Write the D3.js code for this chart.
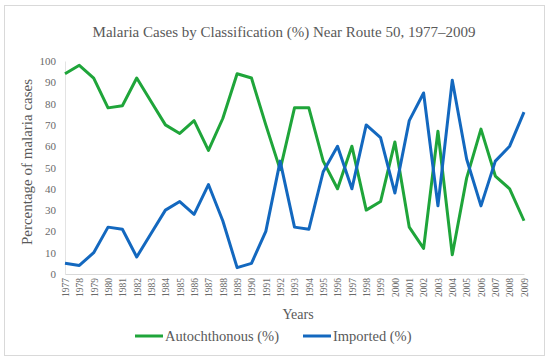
<!DOCTYPE html>
<meta charset="utf-8">
<script src="https://d3js.org/d3.v7.min.js"></script>
<html>
  <head>
    <style>
    body { margin: 0; background: #fff; }
    text { font-family: "Liberation Serif", "DejaVu Serif", serif; fill: #595959; }
    </style>
  </head>
  <body>
    <div id="chart"></div>
  </body>
</html>
<script>

// data
var years = d3.range(1977, 2010);
var autochthonous = [94, 98, 92, 78, 79, 92, 81, 70, 66, 72, 58, 73, 94, 92, 70, 49, 78, 78, 53, 40, 60, 30, 34, 62, 22, 12, 67, 9, 45, 68, 46, 40, 25];
var imported = [5, 4, 10, 22, 21, 8, 19, 30, 34, 28, 42, 25, 3, 5, 20, 53, 22, 21, 48, 60, 40, 70, 64, 38, 72, 85, 32, 91, 54, 32, 53, 60, 76];
var yTicks = [0, 10, 20, 30, 40, 50, 60, 70, 80, 90, 100];
var seriesNames = ["Autochthonous (%)", "Imported (%)"];
var seriesColors = ["#1fa53a", "#1368bf"];

var W = 550, H = 361;
var margin = {top: 61, right: 26, bottom: 88, left: 65};

var svg = d3.select("#chart").append("svg")
    .attr("width", W)
    .attr("height", H);

// outer frame
svg.append("rect")
    .attr("x", 4.5).attr("y", 5.5)
    .attr("width", 540).attr("height", 350)
    .attr("fill", "#fff")
    .attr("stroke", "#d9d9d9");

var x = d3.scaleLinear()
    .domain([1977, 2009])
    .range([margin.left, W - margin.right]);

var y = d3.scaleLinear()
    .domain([0, 100])
    .range([H - margin.bottom + 1, margin.top]);

// y axis
var yAxis = svg.append("g")
    .attr("transform", "translate(" + margin.left + ",0)")
    .call(d3.axisLeft(y).tickValues(yTicks).tickSize(0).tickPadding(9));
yAxis.select(".domain").attr("stroke", "#e3e3e3");
yAxis.selectAll("text").style("font-size", "11px").style("fill", "#6a6a6a");

// x axis
var xAxis = svg.append("g")
    .attr("transform", "translate(0," + y(0) + ")")
    .call(d3.axisBottom(x).tickValues(years).tickFormat(d3.format("d")).tickSize(0));
xAxis.select(".domain").attr("stroke", "#d9d9d9");
xAxis.selectAll("text")
    .style("font-size", "9.5px")
    .style("fill", "#6a6a6a")
    .attr("text-anchor", "end")
    .attr("dy", "0.35em")
    .attr("transform", "translate(0,4) rotate(-90)")
    .attr("x", 0).attr("y", 0);

// lines
var line = d3.line()
    .x(function(d, i) { return x(years[i]); })
    .y(function(d) { return y(d); });

[autochthonous, imported].forEach(function(s, k) {
  svg.append("path")
    .datum(s)
    .attr("fill", "none")
    .attr("stroke", seriesColors[k])
    .attr("stroke-width", 3)
    .attr("stroke-linejoin", "round")
    .attr("d", line);
});

// title
svg.append("text")
    .attr("x", 284).attr("y", 37)
    .attr("text-anchor", "middle")
    .style("font-size", "15px")
    .text("Malaria Cases by Classification (%) Near Route 50, 1977\u20132009");

// axis labels
svg.append("text")
    .attr("transform", "translate(32,162) rotate(-90)")
    .attr("text-anchor", "middle")
    .style("font-size", "15px")
    .text("Percentage  of malaria cases");

svg.append("text")
    .attr("x", 298).attr("y", 319)
    .attr("text-anchor", "middle")
    .style("font-size", "14px")
    .text("Years");

// legend
var legendX = [135, 303];
seriesNames.forEach(function(n, k) {
  svg.append("line")
    .attr("x1", legendX[k]).attr("x2", legendX[k] + 28)
    .attr("y1", 336).attr("y2", 336)
    .attr("stroke", seriesColors[k])
    .attr("stroke-width", 3);
  svg.append("text")
    .attr("x", legendX[k] + 30).attr("y", 341)
    .style("font-size", "14.5px")
    .text(n);
});
</script>
